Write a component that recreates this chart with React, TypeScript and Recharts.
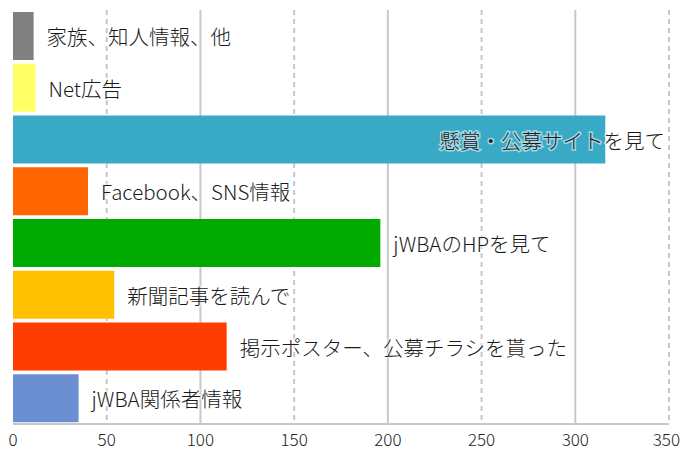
import { BarChart, Bar, XAxis, YAxis, CartesianGrid, Cell, LabelList } from "recharts"

const categories = [
  "家族、知人情報、他",
  "Net広告",
  "懸賞・公募サイトを見て",
  "Facebook、SNS情報",
  "jWBAのHPを見て",
  "新聞記事を読んで",
  "掲示ポスター、公募チラシを貰った",
  "jWBA関係者情報",
]
const counts = [11, 12, 316, 40, 196, 54, 114, 35]
const barColors = ["#808080", "#ffff66", "#39aac6", "#ff6600", "#00aa00", "#ffc000", "#ff3d00", "#6b8fd1"]
const xTicks = [0, 50, 100, 150, 200, 250, 300, 350]

const data = categories.map((name, i) => ({ name, value: counts[i] }))

const FONT = "'Noto Sans CJK JP', 'Noto Sans', sans-serif"
const PLOT_RIGHT = 669
const CHART_W = 681

// rough text width so the long label can be pulled back inside the plot
function textWidth(s: string, size: number) {
  let w = 0
  for (const ch of s) w += ch.charCodeAt(0) > 0x2000 ? size : size * 0.55
  return w
}

function BarLabel(props: any) {
  const { x, y, width, height, value } = props
  const size = 20.5
  const tw = textWidth(String(value), size)
  let tx = x + width + 13
  let anchor: "start" | "end" = "start"
  if (tx + tw > PLOT_RIGHT) {
    tx = PLOT_RIGHT - 4
    anchor = "end"
  }
  return (
    <text
      x={tx}
      y={y + height / 2}
      textAnchor={anchor}
      dominantBaseline="central"
      fontSize={size}
      fontWeight={300}
      fontFamily={FONT}
      fill="#1a1a1a"
      stroke="rgba(255,255,255,0.55)"
      strokeWidth={3}
      paintOrder="stroke"
    >
      {value}
    </text>
  )
}

function AxisTick(props: any) {
  const { x, y, payload } = props
  const label = String(payload.value)
  const size = 17
  const w = label.length * size * 0.56
  let tx = x
  let anchor: "middle" | "end" = "middle"
  if (x + w / 2 > CHART_W - 1) {
    tx = CHART_W - 1
    anchor = "end"
  }
  return (
    <text x={tx} y={y + 14} textAnchor={anchor} fontSize={size} fontWeight={300} fontFamily={FONT} fill="#222">
      {label}
    </text>
  )
}

function GridLine(props: any) {
  const { x1, y1, x2, y2, index } = props
  if (index === 0) return <g key={`g-${index}`} />
  return (
    <line
      key={`g-${index}`}
      x1={x1}
      y1={y1}
      x2={x2}
      y2={y2}
      stroke="#c8c8c8"
      strokeWidth={2}
      strokeDasharray={index % 2 === 1 ? "5 4" : undefined}
    />
  )
}

export default function App() {
  return (
    <div style={{ position: "absolute", left: 0, top: 0, width: 681, height: 451, background: "#fff" }}>
      <BarChart
        width={681}
        height={451}
        data={data}
        layout="vertical"
        margin={{ top: 10, right: 12, bottom: 0, left: 13 }}
        barCategoryGap={2}
      >
        <CartesianGrid horizontal={false} vertical={GridLine} />
        <XAxis
          type="number"
          domain={[0, 350]}
          ticks={xTicks}
          height={27}
          tickLine={false}
          axisLine={{ stroke: "#c8c8c8", strokeWidth: 2 }}
          tick={AxisTick}
          interval={0}
        />
        <YAxis
          type="category"
          dataKey="name"
          width={0}
          tick={false}
          tickLine={false}
          axisLine={{ stroke: "#111", strokeWidth: 2 }}
        />
        <Bar dataKey="value" isAnimationActive={false}>
          {data.map((d, i) => (
            <Cell key={`cell-${i}`} fill={barColors[i]} />
          ))}
          <LabelList dataKey="name" content={BarLabel} />
        </Bar>
      </BarChart>
    </div>
  )
}
